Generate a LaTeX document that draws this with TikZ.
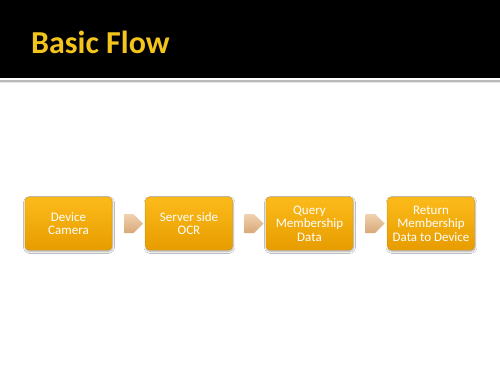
\documentclass[tikz,border=0pt]{standalone}
\usepackage{fontspec}
\setmainfont{Carlito}
\usetikzlibrary{shapes.arrows,shadows.blur}
\definecolor{titleyellow}{HTML}{F2C41C}
\definecolor{boxtop}{HTML}{FCBB1A}
\definecolor{boxbot}{HTML}{E79C00}
\definecolor{boxedge}{HTML}{D89200}
\definecolor{arrtop}{HTML}{F0D2B0}
\definecolor{arrbot}{HTML}{D9A878}
\tikzset{
  stepbox/.style={rectangle, rounded corners=4pt, minimum width=87pt, minimum height=53pt,
    top color=boxtop, bottom color=boxbot, draw=boxedge, line width=0.4pt,
    text=white, font=\fontsize{13}{13.5}\selectfont, align=center, inner sep=1pt,
    blur shadow={shadow xshift=0.5pt, shadow yshift=-1.5pt, shadow blur steps=6, shadow opacity=35}},
  flowarrow/.style={single arrow, minimum width=19pt, minimum height=19pt,
    single arrow head extend=0pt, single arrow tip angle=90, inner sep=0pt,
    top color=arrtop, bottom color=arrbot, draw=none,
    shape border uses incircle}
}
\begin{document}
\begin{tikzpicture}[x=1pt,y=-1pt]
\useasboundingbox (0,0) rectangle (500,375);
\fill[white] (0,0) rectangle (500,375);
% header band
\fill[black] (0,0) rectangle (500,78);
\fill[gray!55] (0,79.5) rectangle (500,81.5);
\fill[gray!20] (0,81.5) rectangle (500,82.5);
\node[anchor=base west, text=titleyellow, font=\bfseries\fontsize{32}{33}\selectfont, inner sep=0pt]
  (title) at (31,53) {Basic Flow};
% flow boxes
\node[stepbox] (b1) at (68.5,223.5) {Device\\Camera};
\node[stepbox] (b2) at (189,223.5) {Server side\\OCR};
\node[stepbox] (b3) at (309.5,223.5) {Query\\Membership\\Data};
\node[stepbox] (b4) at (431,223.5) {Return\\Membership\\Data to Device};
% arrows between boxes
\path (b1.east) -- (b2.west) node[midway, flowarrow] (a1) {};
\path (b2.east) -- (b3.west) node[midway, flowarrow] (a2) {};
\path (b3.east) -- (b4.west) node[midway, flowarrow] (a3) {};
\end{tikzpicture}
\end{document}
